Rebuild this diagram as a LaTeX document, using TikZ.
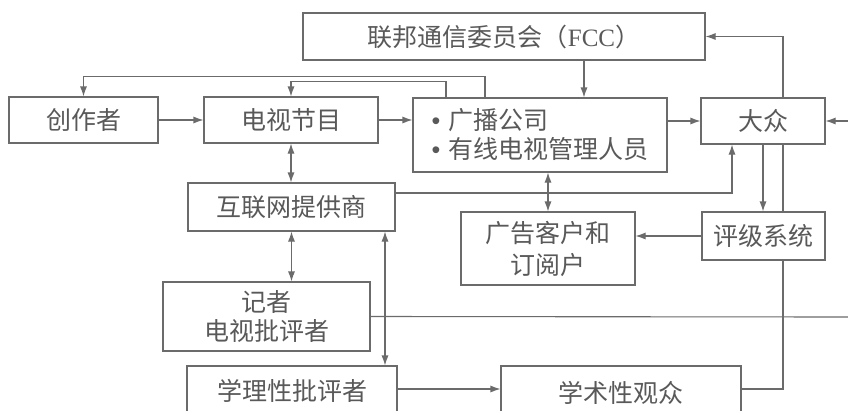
\documentclass[tikz,border=0pt]{standalone}
\usepackage{fontspec}
\newfontfamily\cjk{Noto Sans CJK SC}
\newfontfamily\serifl{Liberation Serif}
\newfontfamily\sansl{Liberation Sans}
\usetikzlibrary{arrows.meta}
\definecolor{lc}{gray}{0.42}
\definecolor{tc}{gray}{0.35}
\begin{document}
\begin{tikzpicture}[x=1pt,y=-1pt, line width=1.1pt,
  box/.style={draw=lc, rectangle, inner sep=0pt, align=center, text=tc,
    font=\cjk\fontsize{25}{29}\selectfont},
  arr/.style={draw=lc, -{Latex[length=10pt,width=7pt]}},
  darr/.style={draw=lc, {Latex[length=10pt,width=7pt]}-{Latex[length=10pt,width=7pt]}},
  ln/.style={draw=lc}]
\useasboundingbox (0,0) rectangle (848,410);
\fill[white] (0,0) rectangle (848,410);
\clip (0,0) rectangle (848,410);

\node[box, minimum width=402pt, minimum height=47pt] (fcc) at (504,36.5)
  {联邦通信委员会（{\serifl FCC}）};
\node[box, minimum width=149pt, minimum height=46pt] (cz) at (83.5,120) {创作者};
\node[box, minimum width=174pt, minimum height=46pt] (ds) at (291,120) {电视节目};
\node[box, minimum width=254pt, minimum height=74pt, align=left] (gb) at (540,135)
  {{\sansl •}\hspace{8pt}广播公司\\{\sansl •}\hspace{8pt}有线电视管理人员};
\node[box, minimum width=124pt, minimum height=46pt] (dz) at (763,121) {大众};
\node[box, minimum width=207pt, minimum height=48pt] (hl) at (291.5,207) {互联网提供商};
\node[box, minimum width=174pt, minimum height=73pt, font=\cjk\fontsize{25}{32}\selectfont] (gk) at (548,248.5) {广告客户和\\订阅户};
\node[box, minimum width=123pt, minimum height=48pt] (pj) at (763.5,236) {评级系统};
\node[box, minimum width=207pt, minimum height=69pt] (jz) at (266.5,316.5) {记者\\电视批评者};
\node[box, minimum width=210pt, minimum height=50pt] (xl) at (292,391) {学理性批评者};
\node[box, minimum width=240pt, minimum height=54pt] (xs) at (621,393) {学术性观众};

\coordinate (x84) at (84,0);
\coordinate (x446) at (446,0);
\coordinate (x485) at (485,0);
\coordinate (x584) at (584,0);
\coordinate (x732) at (732,0);
\coordinate (x783) at (783,0);
\coordinate (x385) at (385,0);
\coordinate (rin) at (848,121);
\coordinate (rout) at (848,317);

\draw[arr] (cz.east) -- (ds.west);
\draw[arr] (ds.east) -- (ds.east -| gb.west);
\draw[arr] (gb.east |- dz.west) -- (dz.west);
\draw[arr] (rin) -- (dz.east);
\draw[arr] (fcc.south -| x584) -- (gb.north -| x584);
\draw[arr] (dz.north -| x783) |- (fcc.east);
\draw[arr] (gb.north -| x485) -- ++(0,-21) -| (cz.north);
\draw[arr] (gb.north -| x446) -- ++(0,-16) -| (ds.north);
\draw[darr] (ds.south) -- (ds.south |- hl.north);
\draw[arr] ([yshift=14pt]hl.east) -| (dz.south -| x732);
\draw[darr] (gb.south -| gk.north) -- (gk.north);
\draw[arr] (dz.south) -- (dz.south |- pj.north);
\draw[arr] (pj.west) -- (pj.west -| gk.east);
\draw[ln] (dz.south -| x783) -- (pj.north -| x783);
\draw[ln] ([yshift=4pt]xs.east) -| (pj.south -| x783);
\draw[darr] (hl.south) -- (hl.south |- jz.north);
\draw[ln] (jz.east) -- (rout);
\draw[darr] (hl.south -| x385) -- (xl.north -| x385);
\draw[arr] ([yshift=2pt]xl.east) -- ([yshift=2pt]xl.east -| xs.west);
\end{tikzpicture}
\end{document}
